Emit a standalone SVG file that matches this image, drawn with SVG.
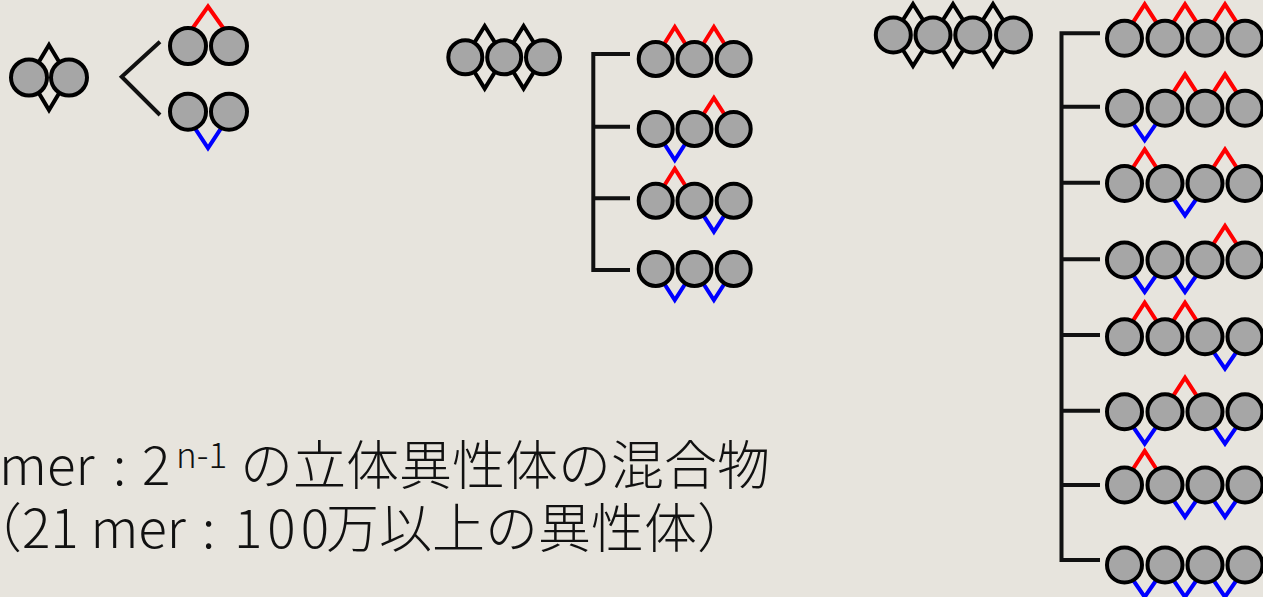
<svg xmlns="http://www.w3.org/2000/svg" width="1263" height="597" viewBox="0 0 1263 597">
  <style>
    .bead { fill: #a6a6a6; stroke: #000; stroke-width: 4; }
    .bridge { fill: none; stroke: #000; stroke-width: 4; stroke-linejoin: miter; }
    .up { fill: none; stroke: #ff0000; stroke-width: 4; stroke-linejoin: miter; }
    .down { fill: none; stroke: #0000ff; stroke-width: 4; stroke-linejoin: miter; }
    .branch { fill: none; stroke: #111; stroke-width: 4; stroke-linecap: butt; stroke-linejoin: miter; }
    .label { font-family: "Noto Sans CJK JP", "Noto Sans", sans-serif; font-size: 53px; font-weight: 300; fill: #111; }
  </style>
  <rect width="1263" height="597" fill="#e7e4dd"/>

  <!-- connectors: branching brackets -->
  <g id="connectors">
    <polyline class="branch" points="160,41.7 121.7,76.7 160,115"/>
    <path class="branch" d="M630,54 H593.3 V270 H630 M593.3,126.7 H630 M593.3,198.3 H630"/>
    <path class="branch" d="M1100,33.3 H1061.5 V560 H1100 M1061.5,106.7 H1100 M1061.5,182.7 H1100 M1061.5,259.3 H1100 M1061.5,335 H1100 M1061.5,410.7 H1100 M1061.5,485 H1100"/>
  </g>

  <!-- dimer: unresolved stereo centre -->
  <g id="dimer-mix">
    <polygon class="bridge" points="49,45 68.5,77.5 49,110 29.5,77.5"/>
    <circle class="bead" cx="29" cy="77.5" r="18"/>
    <circle class="bead" cx="69" cy="77.5" r="18"/>
  </g>
  <g id="dimer-u">
    <polyline class="up" points="180,46 208,6.5 236,46"/>
    <circle class="bead" cx="188" cy="46" r="18"/>
    <circle class="bead" cx="229" cy="46" r="18"/>
  </g>
  <g id="dimer-d">
    <polyline class="down" points="184,111.7 208,148 232,111.7"/>
    <circle class="bead" cx="188" cy="111.7" r="18"/>
    <circle class="bead" cx="229" cy="111.7" r="18"/>
  </g>

  <!-- trimer -->
  <g id="trimer-mix">
    <polygon class="bridge" points="484.7,26 504,57.3 484.7,88.6 465.4,57.3"/>
    <polygon class="bridge" points="523.6,26 542.9,57.3 523.6,88.6 504.3,57.3"/>
    <circle class="bead" cx="465.3" cy="57.3" r="17"/>
    <circle class="bead" cx="504.2" cy="57.3" r="17"/>
    <circle class="bead" cx="543" cy="57.3" r="17"/>
  </g>
  <g id="trimer-uu">
    <polyline class="up" points="654.8,59 674.8,27 694.8,59"/>
    <polyline class="up" points="693.9,59 713.9,27 733.9,59"/>
    <circle class="bead" cx="655.7" cy="59" r="17"/>
    <circle class="bead" cx="694.5" cy="59" r="17"/>
    <circle class="bead" cx="733.7" cy="59" r="17"/>
  </g>
  <g id="trimer-du">
    <polyline class="down" points="654.8,129 674.8,160 694.8,129"/>
    <polyline class="up" points="693.9,129 713.9,98 733.9,129"/>
    <circle class="bead" cx="655.7" cy="129" r="17"/>
    <circle class="bead" cx="694.5" cy="129" r="17"/>
    <circle class="bead" cx="733.7" cy="129" r="17"/>
  </g>
  <g id="trimer-ud">
    <polyline class="up" points="654.8,200.7 674.8,168.7 694.8,200.7"/>
    <polyline class="down" points="693.9,200.7 713.9,231.7 733.9,200.7"/>
    <circle class="bead" cx="655.7" cy="200.7" r="17"/>
    <circle class="bead" cx="694.5" cy="200.7" r="17"/>
    <circle class="bead" cx="733.7" cy="200.7" r="17"/>
  </g>
  <g id="trimer-dd">
    <polyline class="down" points="654.8,269 674.8,300 694.8,269"/>
    <polyline class="down" points="693.9,269 713.9,300 733.9,269"/>
    <circle class="bead" cx="655.7" cy="269" r="17"/>
    <circle class="bead" cx="694.5" cy="269" r="17"/>
    <circle class="bead" cx="733.7" cy="269" r="17"/>
  </g>

  <!-- tetramer -->
  <g id="tetramer-mix">
    <polygon class="bridge" points="913,4 932.5,35 913,66 893.5,35"/>
    <polygon class="bridge" points="953,4 972.5,35 953,66 933.5,35"/>
    <polygon class="bridge" points="993,4 1012.5,35 993,66 973.5,35"/>
    <circle class="bead" cx="893.3" cy="35" r="17.5"/>
    <circle class="bead" cx="933" cy="35" r="17.5"/>
    <circle class="bead" cx="972.8" cy="35" r="17.5"/>
    <circle class="bead" cx="1013.5" cy="35" r="17.5"/>
  </g>

  <g id="tetramer-uuu">
    <polyline class="up" points="1122.7,38.3 1144.7,4.3 1166.7,38.3"/>
    <polyline class="up" points="1163,38.3 1185,4.3 1207,38.3"/>
    <polyline class="up" points="1203,38.3 1225,4.3 1247,38.3"/>
    <circle class="bead" cx="1124.5" cy="38.3" r="17.5"/>
    <circle class="bead" cx="1165" cy="38.3" r="17.5"/>
    <circle class="bead" cx="1205" cy="38.3" r="17.5"/>
    <circle class="bead" cx="1245" cy="38.3" r="17.5"/>
  </g>
  <g id="tetramer-duu">
    <polyline class="down" points="1122.7,108.3 1144.7,140.3 1166.7,108.3"/>
    <polyline class="up" points="1163,108.3 1185,74.3 1207,108.3"/>
    <polyline class="up" points="1203,108.3 1225,74.3 1247,108.3"/>
    <circle class="bead" cx="1124.5" cy="108.3" r="17.5"/>
    <circle class="bead" cx="1165" cy="108.3" r="17.5"/>
    <circle class="bead" cx="1205" cy="108.3" r="17.5"/>
    <circle class="bead" cx="1245" cy="108.3" r="17.5"/>
  </g>
  <g id="tetramer-udu">
    <polyline class="up" points="1122.7,183.5 1144.7,149.5 1166.7,183.5"/>
    <polyline class="down" points="1163,183.5 1185,215.5 1207,183.5"/>
    <polyline class="up" points="1203,183.5 1225,149.5 1247,183.5"/>
    <circle class="bead" cx="1124.5" cy="183.5" r="17.5"/>
    <circle class="bead" cx="1165" cy="183.5" r="17.5"/>
    <circle class="bead" cx="1205" cy="183.5" r="17.5"/>
    <circle class="bead" cx="1245" cy="183.5" r="17.5"/>
  </g>
  <g id="tetramer-ddu">
    <polyline class="down" points="1122.7,260 1144.7,292 1166.7,260"/>
    <polyline class="down" points="1163,260 1185,292 1207,260"/>
    <polyline class="up" points="1203,260 1225,226 1247,260"/>
    <circle class="bead" cx="1124.5" cy="260" r="17.5"/>
    <circle class="bead" cx="1165" cy="260" r="17.5"/>
    <circle class="bead" cx="1205" cy="260" r="17.5"/>
    <circle class="bead" cx="1245" cy="260" r="17.5"/>
  </g>
  <g id="tetramer-uud">
    <polyline class="up" points="1122.7,336.7 1144.7,302.7 1166.7,336.7"/>
    <polyline class="up" points="1163,336.7 1185,302.7 1207,336.7"/>
    <polyline class="down" points="1203,336.7 1225,368.7 1247,336.7"/>
    <circle class="bead" cx="1124.5" cy="336.7" r="17.5"/>
    <circle class="bead" cx="1165" cy="336.7" r="17.5"/>
    <circle class="bead" cx="1205" cy="336.7" r="17.5"/>
    <circle class="bead" cx="1245" cy="336.7" r="17.5"/>
  </g>
  <g id="tetramer-dud">
    <polyline class="down" points="1122.7,411.7 1144.7,443.7 1166.7,411.7"/>
    <polyline class="up" points="1163,411.7 1185,377.7 1207,411.7"/>
    <polyline class="down" points="1203,411.7 1225,443.7 1247,411.7"/>
    <circle class="bead" cx="1124.5" cy="411.7" r="17.5"/>
    <circle class="bead" cx="1165" cy="411.7" r="17.5"/>
    <circle class="bead" cx="1205" cy="411.7" r="17.5"/>
    <circle class="bead" cx="1245" cy="411.7" r="17.5"/>
  </g>
  <g id="tetramer-udd">
    <polyline class="up" points="1122.7,485 1144.7,451 1166.7,485"/>
    <polyline class="down" points="1163,485 1185,517 1207,485"/>
    <polyline class="down" points="1203,485 1225,517 1247,485"/>
    <circle class="bead" cx="1124.5" cy="485" r="17.5"/>
    <circle class="bead" cx="1165" cy="485" r="17.5"/>
    <circle class="bead" cx="1205" cy="485" r="17.5"/>
    <circle class="bead" cx="1245" cy="485" r="17.5"/>
  </g>
  <g id="tetramer-ddd">
    <polyline class="down" points="1122.7,565 1144.7,597 1166.7,565"/>
    <polyline class="down" points="1163,565 1185,597 1207,565"/>
    <polyline class="down" points="1203,565 1225,597 1247,565"/>
    <circle class="bead" cx="1124.5" cy="565" r="17.5"/>
    <circle class="bead" cx="1165" cy="565" r="17.5"/>
    <circle class="bead" cx="1205" cy="565" r="17.5"/>
    <circle class="bead" cx="1245" cy="565" r="17.5"/>
  </g>

  <!-- caption -->
  <g id="caption">
    <text class="label"><tspan x="-1" y="485">mer</tspan><tspan x="113" y="485">:</tspan><tspan x="142" y="485">2</tspan><tspan x="176" y="468" font-size="35">n-1</tspan><tspan x="240" y="485">の立体異性体の混合物</tspan></text>
    <text class="label"><tspan x="-31" y="548">（21 mer</tspan><tspan x="202" y="548">:</tspan><tspan x="234" y="548" letter-spacing="5">100</tspan><tspan x="326" y="548">万以上の異性体）</tspan></text>
  </g>
</svg>
